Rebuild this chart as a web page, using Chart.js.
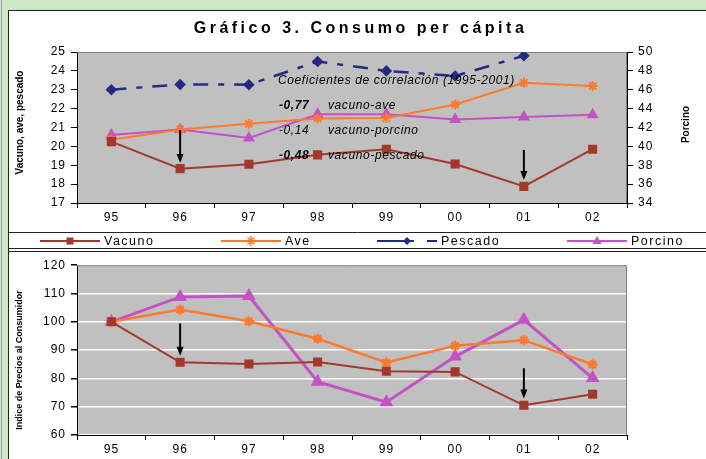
<!DOCTYPE html>
<html lang="es">
<head>
<meta charset="utf-8">
<title>Gráfico 3. Consumo per cápita</title>
<script src="https://cdn.jsdelivr.net/npm/chart.js@4.4.1/dist/chart.umd.min.js"></script>
<style>
  html, body { margin: 0; padding: 0; }
  body { width: 706px; height: 459px; overflow: hidden; background: #cde6c5; position: relative; }
  #edge { position: absolute; left: 1px; top: 0; width: 1px; height: 459px; background: #9c9cb8; }
  #panel { position: absolute; left: 8px; top: 10px; width: 698px; height: 449px; background: #fff;
           border-left: 1px solid #222; border-top: 1px solid #222; box-sizing: border-box; }
  .box { position: absolute; left: 9px; width: 697px; }
  #topBox { top: 11px; height: 238px; }
  #sep { position: absolute; left: 9px; top: 248px; width: 697px; height: 2px;
         border-top: 1px solid #222; border-bottom: 1px solid #222; }
  #bottomBox { top: 253px; height: 206px; }
</style>
</head>
<body>
<div id="edge"></div>
<div id="panel"></div>
<div class="box" id="topBox"><canvas id="consumo"></canvas></div>
<div id="sep"></div>
<div class="box" id="bottomBox"><canvas id="precios"></canvas></div>

<script>
// Datos
const anios = ['95', '96', '97', '98', '99', '00', '01', '02'];

// consumo per capita (kg) - eje izquierdo
const vacunoKg  = [20.25, 18.82, 19.05, 19.55, 19.85, 19.07, 17.88, 19.85];
const aveKg     = [20.35, 20.90, 21.20, 21.48, 21.50, 22.22, 23.37, 23.20];
const pescadoKg = [23.00, 23.28, 23.27, 24.50, 24.00, 23.73, 24.80, null];
// porcino - eje derecho
const porcinoKg = [41.2, 41.8, 40.9, 43.4, 43.4, 42.85, 43.1, 43.35];

// indice de precios (1995 = 100)
const vacunoIdx  = [100, 85.7, 85.1, 85.8, 82.5, 82.3, 70.5, 74.4];
const aveIdx     = [100, 104.3, 100.2, 94.0, 85.6, 91.5, 93.5, 84.9];
const porcinoIdx = [100, 108.8, 109.1, 78.8, 71.6, 87.7, 100.7, 80.1];

// etiquetas de ejes
const ticksIzq = [17, 18, 19, 20, 21, 22, 23, 24, 25];
const ticksDer = [34, 36, 38, 40, 42, 44, 46, 48, 50];
const ticksIdx = [60, 70, 80, 90, 100, 110, 120];

// coeficientes de correlacion
const correlaciones = [
    { valor: '-0,77', par: 'vacuno-ave', negrita: true },
    { valor: '-0,14', par: 'vacuno-porcino', negrita: false },
    { valor: '-0,48', par: 'vacuno-pescado', negrita: true }
];

// flechas (categoria, desde, hasta)
const flechasConsumo = [{ cat: '96', desde: 20.87, hasta: 19.12 }, { cat: '01', desde: 19.81, hasta: 18.22 }];
const flechasPrecios = [{ cat: '96', desde: 99.4, hasta: 88.0 }, { cat: '01', desde: 83.6, hasta: 72.9 }];

const colores = { vacuno: '#a3392b', ave: '#fb7a2f', pescado: '#262a80', porcino: '#c452c4' };
const FUENTE = '"Liberation Sans", Arial, sans-serif';

Chart.defaults.font.family = FUENTE;
Chart.defaults.color = '#000';

function dibujarMarca(ctx, estilo, x, y, r, color) {
    ctx.save();
    ctx.fillStyle = color;
    ctx.strokeStyle = color;
    ctx.lineWidth = 1.5;
    ctx.setLineDash([]);
    ctx.beginPath();
    if (estilo === 'rect') {
        const s = r * Math.SQRT1_2;
        ctx.rect(x - s, y - s, 2 * s, 2 * s);
        ctx.fill();
    } else if (estilo === 'rectRot') {
        ctx.moveTo(x, y - r); ctx.lineTo(x + r, y); ctx.lineTo(x, y + r); ctx.lineTo(x - r, y);
        ctx.closePath(); ctx.fill();
    } else if (estilo === 'triangle') {
        ctx.moveTo(x, y - r); ctx.lineTo(x + r * 0.95, y + r * 0.6); ctx.lineTo(x - r * 0.95, y + r * 0.6);
        ctx.closePath(); ctx.fill();
    } else if (estilo === 'star') {
        for (let a = 0; a < 4; a++) {
            const ang = a * Math.PI / 4;
            ctx.moveTo(x - r * Math.cos(ang), y - r * Math.sin(ang));
            ctx.lineTo(x + r * Math.cos(ang), y + r * Math.sin(ang));
        }
        ctx.stroke();
    }
    ctx.restore();
}

function dibujarFlechas(chart, flechas) {
    const ctx = chart.ctx;
    const x = chart.scales.x;
    const y = chart.scales.y;
    ctx.save();
    ctx.strokeStyle = '#000';
    ctx.fillStyle = '#000';
    ctx.lineWidth = 2;
    flechas.forEach(f => {
        const px = x.getPixelForValue(anios.indexOf(f.cat));
        const y1 = y.getPixelForValue(f.desde);
        const y2 = y.getPixelForValue(f.hasta);
        ctx.beginPath();
        ctx.moveTo(px, y1);
        ctx.lineTo(px, y2 - 8);
        ctx.stroke();
        ctx.beginPath();
        ctx.moveTo(px - 3.5, y2 - 9);
        ctx.lineTo(px + 3.5, y2 - 9);
        ctx.lineTo(px, y2);
        ctx.closePath();
        ctx.fill();
    });
    ctx.restore();
}

// titulo vertical a la izquierda (o derecha) del area de trazado
function tituloVertical(ctx, texto, x, y, tam) {
    ctx.save();
    ctx.letterSpacing = '0px';
    ctx.fillStyle = '#000';
    ctx.font = 'bold ' + tam + 'px ' + FUENTE;
    ctx.textAlign = 'center';
    ctx.textBaseline = 'middle';
    ctx.translate(x, y);
    ctx.rotate(-Math.PI / 2);
    ctx.fillText(texto, 0, 0);
    ctx.restore();
}

// fondo gris del area de trazado + espaciado de letras
const fondoPlot = {
    id: 'fondoPlot',
    beforeDraw(chart) {
        const { ctx, chartArea: a } = chart;
        ctx.save();
        ctx.fillStyle = '#c0c0c0';
        ctx.fillRect(a.left, a.top, a.right - a.left, a.bottom - a.top);
        ctx.restore();
        ctx.letterSpacing = '1px';
    },
    beforeDatasetsDraw(chart) {
        const { ctx, chartArea: a } = chart;
        ctx.save();
        ctx.strokeStyle = '#808080';
        ctx.lineWidth = 1;
        ctx.beginPath();
        ctx.moveTo(a.left, a.top + 0.5);
        ctx.lineTo(a.right - 0.5, a.top + 0.5);
        ctx.lineTo(a.right - 0.5, a.bottom);
        ctx.stroke();
        ctx.restore();
    },
    afterDraw(chart) {
        chart.ctx.letterSpacing = '0px';
    }
};

// titulo, texto de correlaciones, ejes, flechas y leyenda
const extrasConsumo = {
    id: 'extrasConsumo',
    afterDraw(chart) {
        const { ctx, chartArea: a } = chart;
        const medio = (a.top + a.bottom) / 2;
        tituloVertical(ctx, 'Vacuno, ave, pescado', 11, medio - 5, 10);
        tituloVertical(ctx, 'Porcino', 677, medio - 3, 10);

        ctx.save();
        ctx.fillStyle = '#000';

        // titulo
        ctx.letterSpacing = '3.5px';
        ctx.font = 'bold 16px ' + FUENTE;
        ctx.textAlign = 'center';
        ctx.textBaseline = 'middle';
        ctx.fillText('Gráfico 3. Consumo per cápita', chart.width / 2 + 3, 18);

        // coeficientes
        ctx.letterSpacing = '0.6px';
        ctx.textAlign = 'left';
        ctx.font = 'italic 12px ' + FUENTE;
        ctx.fillText('Coeficientes de correlación (1995-2001)', 269, 70);
        correlaciones.forEach((c, i) => {
            const yy = 95 + i * 25;
            ctx.font = (c.negrita ? 'italic bold 12px ' : 'italic 12px ') + FUENTE;
            ctx.fillText(c.valor, 270, yy);
            ctx.font = 'italic 12px ' + FUENTE;
            ctx.fillText(c.par, 319, yy);
        });
        ctx.restore();

        dibujarFlechas(chart, flechasConsumo);

        // leyenda
        ctx.save();
        ctx.strokeStyle = '#222';
        ctx.lineWidth = 1;
        ctx.beginPath();
        ctx.moveTo(0, 221.5);
        ctx.lineTo(chart.width, 221.5);
        ctx.stroke();
        const posiciones = [31, 212, 368, 558];
        const ly = 230;
        ctx.font = '12.5px ' + FUENTE;
        ctx.letterSpacing = '1.5px';
        ctx.textBaseline = 'middle';
        ctx.fillStyle = '#000';
        chart.data.datasets.forEach((ds, i) => {
            const x0 = posiciones[i];
            ctx.strokeStyle = ds.borderColor;
            ctx.lineWidth = 2;
            ctx.setLineDash(ds.borderDash ? [37, 13, 10, 200] : []);
            ctx.beginPath();
            ctx.moveTo(x0, ly);
            ctx.lineTo(x0 + 60, ly);
            ctx.stroke();
            ctx.setLineDash([]);
            dibujarMarca(ctx, ds.pointStyle, x0 + 30, ly, ds.pointRadius, ds.borderColor);
            ctx.fillText(ds.label, x0 + 64, ly + 1);
        });
        ctx.restore();
    }
};

const extrasPrecios = {
    id: 'extrasPrecios',
    afterDraw(chart) {
        const a = chart.chartArea;
        tituloVertical(chart.ctx, 'Indice de Precios al Consumidor', 11, (a.top + a.bottom) / 2 + 10, 9);
        dibujarFlechas(chart, flechasPrecios);
    }
};

function ejeX() {
    return {
        type: 'category',
        offset: true,
        grid: { offset: true, drawOnChartArea: false, tickLength: 5, tickColor: '#000' },
        border: { color: '#000', width: 1 },
        ticks: { font: { size: 12 }, padding: 2, maxRotation: 0 },
        afterFit: s => { s.height = s.chart.canvas.id === 'consumo' ? 20 : 24; }
    };
}

function ejeY(valores, extra) {
    return Object.assign({
        min: valores[0],
        max: valores[valores.length - 1],
        afterBuildTicks: s => { s.ticks = valores.map(v => ({ value: v })); },
        grid: { drawOnChartArea: false, tickLength: 6, tickColor: '#000' },
        border: { color: '#000', width: 1 },
        ticks: { font: { size: 12 }, padding: 5 }
    }, extra);
}

new Chart(document.getElementById('consumo'), {
    type: 'line',
    data: {
        labels: anios,
        datasets: [
            { label: 'Vacuno', data: vacunoKg, yAxisID: 'y', borderColor: colores.vacuno, backgroundColor: colores.vacuno,
              borderWidth: 2, pointStyle: 'rect', pointRadius: 5 },
            { label: 'Ave', data: aveKg, yAxisID: 'y', borderColor: colores.ave, backgroundColor: colores.ave,
              borderWidth: 2, pointStyle: 'star', pointRadius: 5 },
            { label: 'Pescado', data: pescadoKg, yAxisID: 'y', borderColor: colores.pescado, backgroundColor: colores.pescado,
              borderWidth: 2.5, borderDash: [15, 10, 6, 10], pointStyle: 'rectRot', pointRadius: 4 },
            { label: 'Porcino', data: porcinoKg, yAxisID: 'y2', borderColor: colores.porcino, backgroundColor: colores.porcino,
              borderWidth: 2, pointStyle: 'triangle', pointRadius: 5 }
        ]
    },
    options: {
        responsive: true,
        maintainAspectRatio: false,
        devicePixelRatio: 1,
        animation: false,
        spanGaps: false,
        layout: { autoPadding: false, padding: { top: 41, bottom: 26, left: 0, right: 0 } },
        plugins: { legend: { display: false }, title: { display: false }, tooltip: { enabled: false } },
        scales: {
            x: ejeX(),
            y: ejeY(ticksIzq, { position: 'left', afterFit: s => { s.width = 68; } }),
            y2: ejeY(ticksDer, { position: 'right', afterFit: s => { s.width = 79; } })
        }
    },
    plugins: [fondoPlot, extrasConsumo]
});

new Chart(document.getElementById('precios'), {
    type: 'line',
    data: {
        labels: anios,
        datasets: [
            { label: 'Vacuno', data: vacunoIdx, borderColor: colores.vacuno, backgroundColor: colores.vacuno,
              borderWidth: 2, pointStyle: 'rect', pointRadius: 5 },
            { label: 'Ave', data: aveIdx, borderColor: colores.ave, backgroundColor: colores.ave,
              borderWidth: 2.5, pointStyle: 'star', pointRadius: 5 },
            { label: 'Porcino', data: porcinoIdx, borderColor: colores.porcino, backgroundColor: colores.porcino,
              borderWidth: 3, pointStyle: 'triangle', pointRadius: 5 }
        ]
    },
    options: {
        responsive: true,
        maintainAspectRatio: false,
        devicePixelRatio: 1,
        animation: false,
        layout: { autoPadding: false, padding: { top: 10, bottom: 0, left: 0, right: 79 } },
        plugins: { legend: { display: false }, title: { display: false }, tooltip: { enabled: false } },
        scales: {
            x: ejeX(),
            y: ejeY(ticksIdx, {
                position: 'left',
                grid: { drawOnChartArea: true, color: '#ffffff', lineWidth: 1.5, tickLength: 6, tickColor: '#000' },
                afterFit: s => { s.width = 68; }
            })
        }
    },
    plugins: [fondoPlot, extrasPrecios]
});
</script>
</body>
</html>
